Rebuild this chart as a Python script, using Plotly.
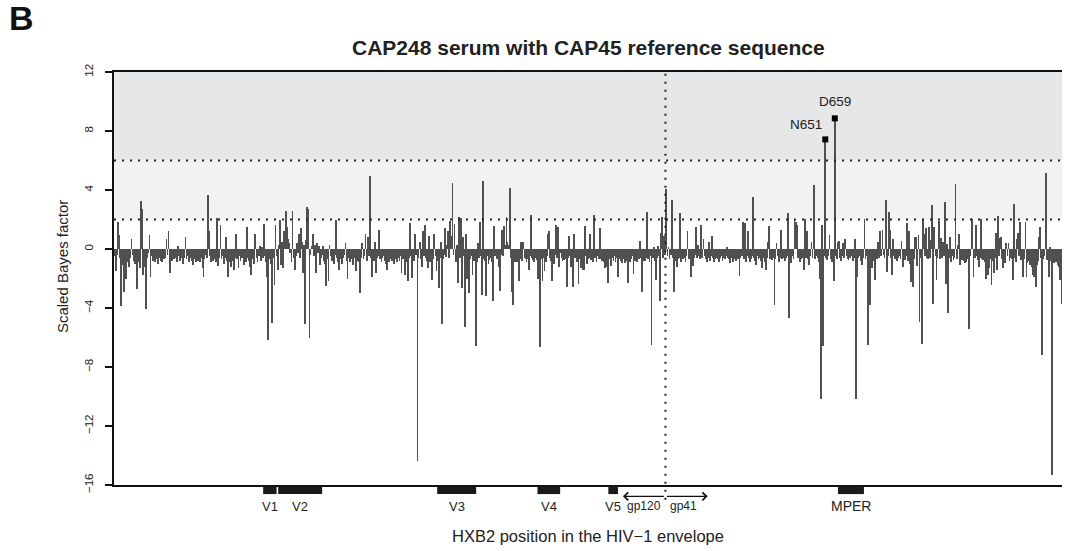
import plotly.graph_objects as go

# Scaled Bayes factor per alignment position (HXB2-referenced envelope)
scores_gp120 = [
    -0.5, -1.5, -0.4, 1.85, 0.95, -0.6, -3.84, -0.8, -1.1, -2.9,
    -0.7, -2.0, -0.9, -0.5, -1.2, -0.6, 0.7, -0.4, -0.8, -1.0,
    -0.6, -2.7, -0.9, -0.5, -1.3, 3.25, 2.7, -1.75, -0.7, -1.2,
    -4.1, -0.6, -0.3, 0.95, -1.9, -0.5, -0.8, -0.6, -0.9, -0.5,
    -0.7, -1.0, -0.6, -0.4, -0.8, -0.9, -0.5, -0.7, -0.6, 0.7,
    -0.4, 1.25, -1.65, -0.6, -0.8, -0.5, -0.7, -0.4, -0.6, -0.9,
    0.2, -0.5, -0.8, -0.6, -0.3, -1.0, -0.6, 0.8, -0.7, -0.5,
    -0.9, -0.6, -0.4, -0.8, -1.1, -0.5, -0.7, -0.9, -0.6, -0.8,
    -0.5, -0.9, -0.6, -1.3, -1.9, -0.7, -0.4, -0.6, 3.66, 1.2,
    -0.5, -0.9, -0.6, -0.8, -0.7, -0.4, -0.9, 2.1, -1.15, -0.6,
    1.6, -0.7, -0.5, -1.0, -0.6, 0.8, -0.8, -1.9, -0.6, -0.9,
    -1.2, -0.5, -0.8, -1.4, -0.6, 1.0, -0.7, -1.3, -0.5, -0.8,
    -0.6, -0.4, -1.1, -0.7, -0.9, 1.5, -0.6, -0.8, -1.2, -1.75,
    -0.5, -0.7, -1.0, 1.0, -0.6, -0.9, -0.5, 0.2, -0.8, 0.15,
    -0.6, 1.7, -0.5, -0.9, -1.9, -6.17, -0.7, -0.5, -1.0, -5.0,
    -0.6, -2.45, 1.6, -0.5, -1.4, 0.3, 2.0, -1.1, 0.5, -1.3,
    1.2, 0.6, 2.58, 1.5, 0.7, 0.4, -0.3, -0.85, 2.58, -0.6,
    -1.4, -0.5, 0.4, -0.3, 1.0, -0.6, 1.4, 0.5, -1.65, 0.3,
    -5.1, 0.6, 2.83, 2.7, -6.0, -0.4, 0.2, 1.0, -0.5, 0.3,
    -1.6, 0.4, -0.3, 0.2, -1.1, -0.6, -0.4, 0.2, -0.8, -1.0,
    -2.5, -0.7, -2.2, 0.25, -0.5, -0.8, -0.6, -1.0, -0.4, 2.0,
    -0.6, -0.9, -1.4, -0.5, -0.7, -1.0, -0.6, -0.4, 0.4, -0.8,
    -2.05, -0.6, -0.9, -0.5, -0.7, -1.1, -0.6, -0.4, -1.5, -0.8,
    -0.5, -0.9, -3.0, -0.6, 0.4, -0.7, -0.5, 1.0, -0.8, 0.8,
    -0.5, 4.97, -0.6, -1.9, -0.4, -0.8, 0.5, -1.65, -0.6, -0.5,
    1.3, -0.7, -0.9, -0.6, -0.5, -0.8, -1.0, -1.4, -0.6, -0.9,
    -0.7, -0.5, -0.8, -0.6, -1.0, -0.7, -0.4, -0.9, -0.6, -0.8,
    -0.5, -1.65, -0.7, -0.6, -1.75, -0.4, -0.9, -2.2, -0.6, 1.75,
    -0.5, -1.95, -0.6, -0.8, 1.0, -0.4, -14.35, -0.6, 0.5, -0.7,
    -1.2, 1.2, -0.5, 1.6, -0.6, -0.8, -1.3, 0.85, -0.9, -0.6,
    -2.1, -0.7, 1.0, -0.5, -1.5, -0.8, -2.65, -0.6, 0.45, -5.1,
    -0.7, -0.4, 1.4, -0.55, 0.3, 1.2, -0.6, 1.9, 0.85, 4.5,
    -0.4, 1.7, -0.85, 0.25, -2.3, 2.2, -0.6, 2.1, -2.65, 0.8,
    -0.5, -5.27, 1.0, -2.0, -0.6, -3.0, -0.7, -0.5, -1.75, -0.8,
    -0.4, -6.6, -0.9, 0.4, -0.6, 1.85, -0.5, -3.1, 4.6, -0.65,
    -0.8, -3.2, -0.5, -1.0, -0.75, -0.6, -0.9, -3.5, 1.55, -0.5,
    -0.3, -0.7, -0.6, -1.2, -2.85, -0.4, 1.3, -0.5, 1.55, 0.3,
    2.15, 0.5, 0.3, 4.15, -0.6, -2.9, -3.8, -0.5, -0.9, -0.85,
    -0.6, -0.9, -2.15, -0.7, 0.5, -0.8, 0.45, -0.6, -0.65, -0.9,
    -0.7, -1.4, -0.5, 2.3, -0.6, -0.75, -0.9, -0.6, -0.5, -0.75,
    -2.05, -0.8, -6.65, -0.7, -2.2, -0.6, -1.5, -0.9, -0.5, 1.0,
    1.2, -0.6, -0.8, -2.2, -0.5, -1.05, -0.4, 1.6, -0.6, 1.5,
    -1.2, -0.3, -0.6, -0.8, -0.75, -0.5, -0.7, -2.6, -0.6, 0.85,
    -0.5, -1.2, -0.7, -2.6, 1.0, -0.6, -0.5, -0.9, -2.4, -0.7,
    -1.3, -0.6, -1.4, -1.4, 1.55, -0.5, -1.0, -0.7, -0.6, 1.0,
    -0.75, -0.5, -0.9, 2.3, -0.6, -0.85, -0.5, -0.7, 1.45, -0.65,
    -0.8, -0.5, -0.9, -1.3, -0.6, -1.25, -2.3, -0.7, -0.5, -1.15,
    -0.6, -0.8, -0.5, -0.9, -0.6, -1.9, -0.7, -0.5, -0.8, -0.95,
    -0.6, -0.7, -0.95, -0.5, -0.8, -2.3, -0.6, -0.9, -0.7, -0.5,
    -1.7, -0.8, -0.6, -0.9, -0.5, -0.7, 0.55, -0.6, -2.9, -0.8,
    -0.5, -0.8, -0.6, 2.5, -0.7, -0.85, -0.5, -6.5, -0.6, 0.1,
    -0.8, -2.1, -0.6, 0.2, -0.5, -3.5, 1.1, 2.15, -0.6, 0.9, -0.4,
]

scores_gp41 = [
    4.1, -0.5, 0.1, -0.7, -0.4, 3.3, -0.6, -2.9, -0.8,
    -0.5, -1.2, -0.7, -0.6, 2.45, -0.85, -0.5, -0.7, -0.6, -0.9,
    -0.5, 1.25, -0.7, -0.6, -1.9, -0.5, -1.15, -0.6, -0.4, 1.5,
    -0.6, 0.3, -0.5, -0.7, 1.6, -0.6, 0.7, -0.5, -0.7, -0.85,
    -0.6, 0.5, -0.8, -0.5, 0.9, -0.6, -0.85, -0.7, -0.5, -0.6,
    -0.7, -0.85, -0.6, -0.5, -0.8, -0.6, -0.7, -0.5, 0.15, -0.6,
    -0.7, -0.95, -0.6, -0.5, -0.85, -0.7, -0.6, -0.8, -0.5, -0.7,
    -1.85, -0.6, -0.5, 1.8, -0.7, 1.74, -0.85, -0.5, 1.2, -0.6,
    -0.85, -0.7, -0.5, 3.52, -0.6, -0.8, -1.08, -0.5, -0.7, -0.6,
    -0.8, -1.3, -0.6, -0.5, -0.9, -1.42, -0.6, 0.5, 1.56, -0.7,
    -0.5, -0.75, -0.6, -3.8, -0.7, 0.4, -0.5, -0.85, -0.6, 1.3,
    -0.7, -0.5, -0.63, -0.8, -0.6, -0.5, 2.46, -4.7, -0.6, -0.97,
    -0.5, -0.7, 1.97, 1.85, 1.63, -0.6, -0.5, -0.85, -0.7, -0.6,
    -0.5, -1.42, 2.03, -0.6, 1.2, -0.7, -1.08, -0.5, 0.5, -0.6,
    4.34, -0.7, -0.2, -0.5, -0.6, -0.85, -2.0, -10.17, 1.63, -6.6,
    -0.5, 7.43, -0.6, -0.75, -0.5, 0.97, -0.7, -0.85, -0.6, -2.17,
    8.86, -0.5, -0.7, 0.5, 0.55, -0.6, -0.8, -0.5, 0.4, -0.6,
    0.7, -0.5, -0.7, -0.75, -0.6, -0.5, -0.4, -0.8, -0.6, 0.7,
    -10.17, -1.88, -0.6, -0.5, -0.5, -0.8, -1.08, -0.6, 2.03, -0.7,
    -0.5, -6.5, -0.6, -3.8, -0.7, -1.3, -0.6, -0.8, -2.1, -0.5,
    -0.7, 0.5, -0.6, 1.2, -0.5, 1.3, -0.4, -0.6, 3.33, -1.53,
    -0.5, 2.48, 1.3, -0.6, -1.76, 0.68, -0.5, -0.7, -0.6, -0.8,
    -0.63, -0.5, -0.7, 0.56, -1.2, -0.6, -0.75, -0.5, 1.75, -0.8,
    1.25, -1.0, -2.23, -0.6, -2.55, -0.7, 0.84, 0.84, -1.15, 0.95,
    -4.93, -0.6, -6.44, 1.96, 1.0, -0.5, 1.4, -0.63, -0.7, 1.5,
    -0.6, 0.6, 2.98, -3.7, 1.47, -0.5, -2.1, -0.6, 1.92, -0.7,
    0.72, -0.6, 0.5, -0.5, 3.2, -2.37, 0.34, -4.36, -0.6, 0.84,
    -0.86, -0.5, -0.75, -0.6, 4.41, -0.7, 0.27, 1.0, -1.08, -0.6,
    -0.75, -0.5, -0.8, -0.93, -0.86, -0.6, -0.7, -5.42, -0.5, 2.12,
    2.03, -1.88, -0.6, 1.63, -0.5, -0.75, -1.2, -0.6, 2.06, -0.7,
    -0.75, -0.5, -0.9, -2.0, -0.6, -1.76, -1.31, -0.7, -2.44, -0.8,
    -1.65, -0.6, 1.1, -1.42, 2.24, -0.5, 0.72, 0.79, -0.7, -1.31,
    -0.6, -0.97, 0.43, -0.5, 0.43, -0.79, -0.6, -0.7, -2.11, 3.02,
    -0.6, -0.86, 0.66, 1.08, -0.5, 1.86, -0.75, -0.6, -1.88, -0.7,
    1.8, -1.88, -0.97, -0.8, -1.08, -0.9, -1.2, -1.76, -1.88, -1.0,
    -2.55, -1.1, -0.8, 0.84, 1.47, -0.6, -7.2, -0.7, -0.5, 5.13,
    -0.75, -0.6, -1.92, 0.11, -0.8, -15.3, -0.6, -0.97, -0.7, -0.86,
    -0.9, -1.08, -1.2, -2.11, -3.7,
]

scores = scores_gp120 + scores_gp41
positions = list(range(1, len(scores) + 1))

# Variable regions (alignment coordinates)
region_names = ["V1", "V2", "V3", "V4", "V5", "MPER"]
region_start = [141.3, 155.5, 305.6, 400.3, 467.2, 684.0]
region_end = [154.0, 197.0, 342.4, 421.7, 476.3, 708.5]

gp_boundary = 521.1
gp120_arrow_end = 481.0
gp41_arrow_end = 561.0

# Highlighted sites
site_names = ["N651", "D659"]
site_pos = [672, 681]
site_vals = [7.43, 8.86]

ticks_y = [-16, -12, -8, -4, 0, 4, 8, 12]
thresholds = [2, 6]

FONT = "Liberation Sans, Arial, Helvetica, sans-serif"

fig = go.Figure()
fig.add_trace(go.Bar(
    x=positions, y=scores, width=0.8,
    marker=dict(color="#505050", line=dict(width=0)),
    showlegend=False, hoverinfo="x+y",
))
fig.add_trace(go.Scatter(
    x=site_pos, y=site_vals, mode="markers",
    marker=dict(symbol="square", size=6, color="black"),
    showlegend=False,
))

shapes = []
# shaded evidence bands
shapes.append(dict(type="rect", xref="paper", yref="y", x0=0, x1=1, y0=6, y1=12,
                   fillcolor="#e6e7e8", line=dict(width=0), layer="below"))
shapes.append(dict(type="rect", xref="paper", yref="y", x0=0, x1=1, y0=2, y1=6,
                   fillcolor="#f1f2f3", line=dict(width=0), layer="below"))
for t in thresholds:
    shapes.append(dict(type="line", xref="paper", yref="y", x0=0, x1=1, y0=t, y1=t,
                       line=dict(color="#222222", width=2, dash="2px,6px")))
# gp120/gp41 boundary
shapes.append(dict(type="line", xref="x", yref="paper", x0=gp_boundary, x1=gp_boundary,
                   y0=-0.036, y1=1, line=dict(color="#222222", width=2, dash="2px,6px")))
# region blocks
for s, e in zip(region_start, region_end):
    shapes.append(dict(type="rect", xref="x", yref="paper", x0=s, x1=e,
                       y0=-0.0035, y1=-0.022, fillcolor="#1a1a1a", line=dict(width=0)))

annotations = []
for name, s, e in zip(region_names, region_start, region_end):
    annotations.append(dict(x=(s + e) / 2, y=-0.052, xref="x", yref="paper", text=name,
                            showarrow=False,
                            font=dict(size=14 if name == "MPER" else 13, family=FONT, color="#222"),
                            xanchor="center", yanchor="middle"))
annotations.append(dict(x=gp_boundary - 2, y=-0.052, xref="x", yref="paper", text="gp120",
                        showarrow=False, font=dict(size=12, family=FONT, color="#222"),
                        xanchor="right", yanchor="middle"))
annotations.append(dict(x=gp_boundary + 2, y=-0.052, xref="x", yref="paper", text="gp41",
                        showarrow=False, font=dict(size=12, family=FONT, color="#222"),
                        xanchor="left", yanchor="middle"))
for tip in [gp120_arrow_end, gp41_arrow_end]:
    annotations.append(dict(x=tip, y=-0.0275, xref="x", yref="paper", ax=gp_boundary, ay=0,
                            axref="x", ayref="pixel", text="", showarrow=True,
                            arrowhead=4, arrowsize=1.2, arrowwidth=1.3, arrowcolor="#111"))
# site labels
annotations.append(dict(x=site_pos[0] - 1.5, y=site_vals[0] + 1.0, xref="x", yref="y",
                        text=site_names[0], showarrow=False, xanchor="right", yanchor="middle",
                        font=dict(size=13.5, family=FONT, color="#222")))
annotations.append(dict(x=site_pos[1], y=site_vals[1] + 1.17, xref="x", yref="y",
                        text=site_names[1], showarrow=False, xanchor="center", yanchor="middle",
                        font=dict(size=13.5, family=FONT, color="#222")))
# panel letter, title, axis titles
annotations.append(dict(x=-0.1128, y=1.131, xref="paper", yref="paper", text="<b>B</b>",
                        showarrow=False, xanchor="left", yanchor="middle",
                        font=dict(size=34, family=FONT, color="#111")))
annotations.append(dict(x=0.5, y=1.0605, xref="paper", yref="paper",
                        text="<b>CAP248 serum with CAP45 reference sequence</b>",
                        showarrow=False, xanchor="center", yanchor="middle",
                        font=dict(size=21, family=FONT, color="#222")))
annotations.append(dict(x=0.5, y=-0.1235, xref="paper", yref="paper",
                        text="HXB2 position in the HIV\u22121 envelope",
                        showarrow=False, xanchor="center", yanchor="middle",
                        font=dict(size=16.5, family=FONT, color="#222")))
annotations.append(dict(x=-0.0549, y=0.53, xref="paper", yref="paper",
                        text="Scaled Bayes factor", textangle=-90,
                        showarrow=False, xanchor="center", yanchor="middle",
                        font=dict(size=15, family=FONT, color="#222")))

fig.update_layout(
    width=1065, height=551,
    margin=dict(l=114, r=3, t=72, b=66),
    paper_bgcolor="white", plot_bgcolor="white",
    shapes=shapes, annotations=annotations,
    showlegend=False, bargap=0,
    font=dict(family=FONT, color="#222"),
)
fig.update_xaxes(range=[0.5, 895.5], showgrid=False, zeroline=False, showticklabels=False,
                 ticks="", showline=True, mirror=True, linecolor="#111", linewidth=2)
fig.update_yaxes(range=[-16, 12], tickvals=ticks_y, ticktext=[str(v).replace("-", "\u2212") for v in ticks_y],
                 tickangle=-90, ticks="outside", ticklen=7, tickwidth=2, tickcolor="#111",
                 ticklabelstandoff=7,
                 showgrid=False, zeroline=False, showline=True, linecolor="#111", linewidth=2,
                 tickfont=dict(size=11.5, family=FONT, color="#222"))

fig.write_html(
    "out.html",
    config={"displayModeBar": False},
    post_script="document.body.style.margin='0';document.documentElement.style.overflow='hidden';",
)
